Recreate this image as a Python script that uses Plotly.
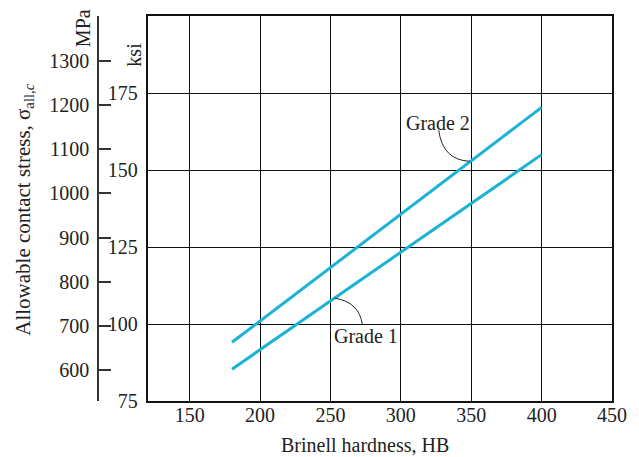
import plotly.graph_objects as go

# Data
hb = [180, 400]
grade1_mpa = [602, 1088]
grade2_mpa = [663, 1195]

x_ticks = [150, 200, 250, 300, 350, 400, 450]
ksi_ticks = [75, 100, 125, 150, 175]
mpa_ticks = [600, 700, 800, 900, 1000, 1100, 1200, 1300]

FONT = "Liberation Serif"
TXT = "#222222"
LINE = "#1ab3d5"
FS = 20

fig = go.Figure()
# invisible anchor trace so the ksi axis (x/y subplot) is drawn
fig.add_trace(go.Scatter(x=[x_ticks[0]], y=[ksi_ticks[1]], mode="markers", xaxis="x", yaxis="y",
                         marker=dict(opacity=0), showlegend=False, hoverinfo="skip"))
fig.add_trace(go.Scatter(x=hb, y=grade1_mpa, mode="lines", yaxis="y2", xaxis="x",
                         line=dict(color=LINE, width=3), showlegend=False, hoverinfo="skip"))
fig.add_trace(go.Scatter(x=hb, y=grade2_mpa, mode="lines", yaxis="y2", xaxis="x",
                         line=dict(color=LINE, width=3), showlegend=False, hoverinfo="skip"))

W, H = 639, 457
ml, mr, mt, mb = 98, 22, 16, 56
pw = W - ml - mr
ph = H - mt - mb
x0 = (148 - ml) / pw

fig.update_layout(
    width=W, height=H,
    margin=dict(l=ml, r=mr, t=mt, b=mb, pad=0),
    paper_bgcolor="white", plot_bgcolor="white",
    font=dict(family=FONT, size=FS, color=TXT),
    xaxis=dict(domain=[x0, 1], range=[120, 450], tickvals=x_ticks, ticktext=[str(v) for v in x_ticks],
               showgrid=True, gridcolor="#111", gridwidth=1, zeroline=False,
               showline=True, mirror=True, linecolor="#111", linewidth=1.5,
               ticks="outside", ticklen=0, ticklabelstandoff=-5, tickfont=dict(family=FONT, size=FS, color=TXT)),
    yaxis=dict(range=[75, 200], tickvals=ksi_ticks, ticktext=[str(v) for v in ksi_ticks],
               showgrid=True, gridcolor="#111", gridwidth=1, zeroline=False,
               showline=True, mirror=True, linecolor="#111", linewidth=1.5,
               ticks="outside", ticklen=0, ticklabelstandoff=4, tickfont=dict(family=FONT, size=FS, color=TXT)),
    yaxis2=dict(overlaying="y", anchor="free", position=0, side="left",
                range=[530, 1402], tickvals=mpa_ticks, ticktext=[str(v) for v in mpa_ticks],
                showgrid=False, zeroline=False, showline=True, linecolor="#333", linewidth=1.5,
                ticks="inside", ticklen=12, tickwidth=1.5, tickcolor="#333",
                ticklabelstandoff=4, tickfont=dict(family=FONT, size=FS, color=TXT)),
)

ann = [
    (368, 445, "Brinell hardness, HB", FS),
    (23, 210, "Allowable contact stress, σ<sub>all,<i>c</i></sub>", 21),
    (83, 28, "MPa", FS),
    (134, 55, "ksi", FS),
]
for i, (px, py, t, fs) in enumerate(ann):
    fig.add_annotation(xref="paper", yref="paper", x=(px - ml) / pw,
                       y=(H - py - mb) / ph, text=t, textangle=0 if i == 0 else -90,
                       showarrow=False, xanchor="center", yanchor="middle",
                       font=dict(family=FONT, size=fs, color=TXT))

fig.add_annotation(xref="x", yref="y2", x=326.5, y=1159, text="Grade 2", showarrow=False,
                   font=dict(family=FONT, size=FS, color=TXT), xanchor="center", yanchor="middle")
fig.add_annotation(xref="x", yref="y2", x=275.5, y=677, text="Grade 1", showarrow=False,
                   font=dict(family=FONT, size=FS, color=TXT), xanchor="center", yanchor="middle")

fig.add_shape(type="path", xref="x", yref="y2", path="M 326.9,1143 Q 329.7,1076 348.7,1073",
              line=dict(color="#222", width=1))
fig.add_shape(type="path", xref="x", yref="y2", path="M 272.7,702 Q 270.6,754 253,763",
              line=dict(color="#222", width=1))

fig.write_html("out.html")
